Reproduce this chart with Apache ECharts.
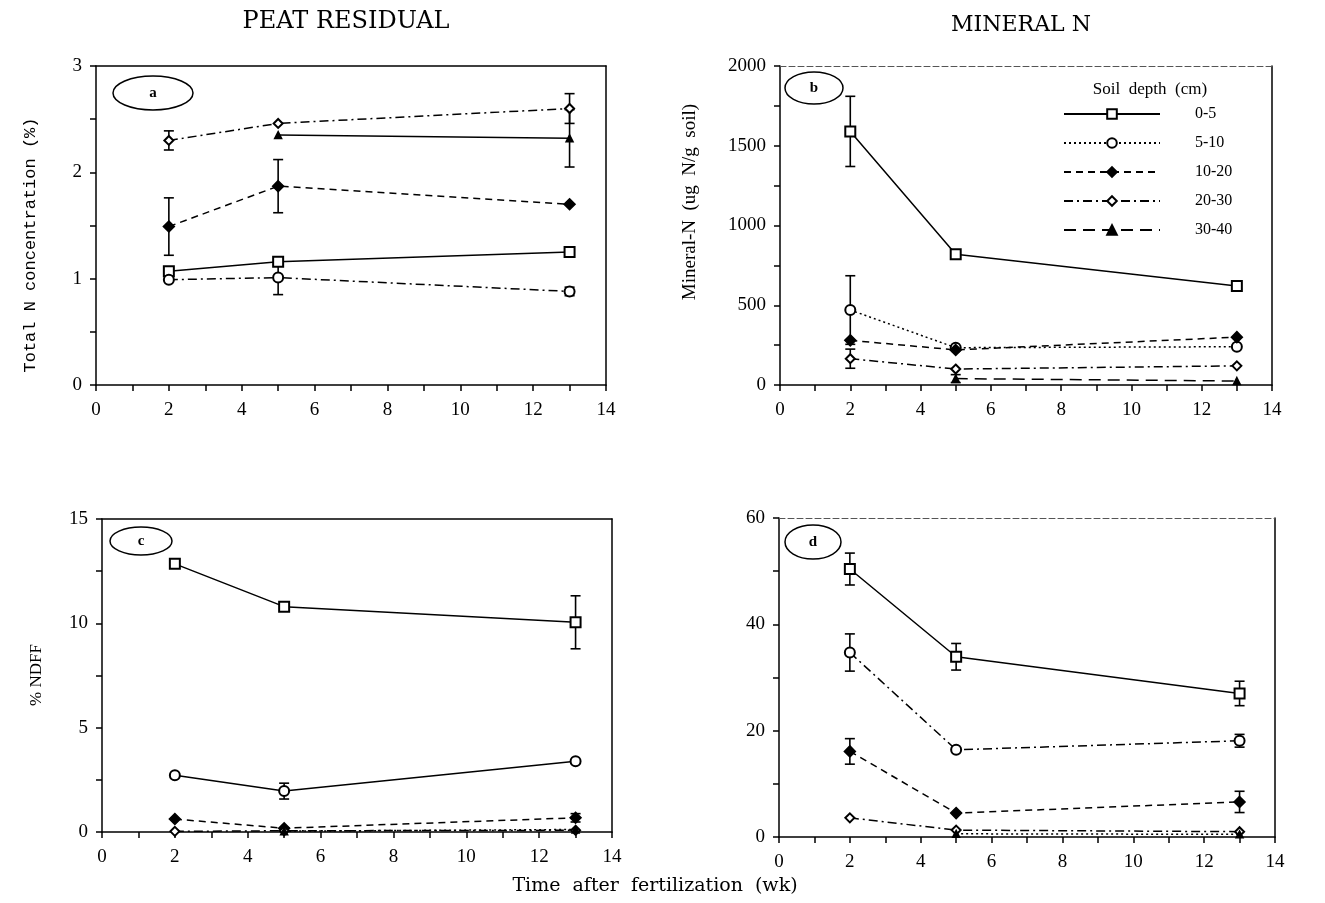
<!DOCTYPE html>
<html><head><meta charset="utf-8">
<script src="https://cdn.jsdelivr.net/npm/echarts@6/dist/echarts.min.js"></script>
<style>html,body{margin:0;padding:0;background:#fff}#c{width:1325px;height:903px}</style>
</head><body><div id="c"></div>
<script>
// ---------- data ----------
var weeks = [2, 5, 13];
var depths = ['0-5', '5-10', '10-20', '20-30', '30-40'];
var xTicks = [0, 2, 4, 6, 8, 10, 12, 14];

// Panel a: PEAT RESIDUAL, Total N concentration (%)
var a_0_5   = [1.07, 1.16, 1.25];
var a_5_10  = [0.99, 1.01, 0.88];
var a_10_20 = [1.49, 1.87, 1.70];
var a_20_30 = [2.30, 2.46, 2.60];
var a_30_40 = [null, 2.35, 2.32];
var aErr_0_5   = [0, 0, 0.04];
var aErr_5_10  = [0, 0.16, 0.04];
var aErr_10_20 = [0.27, 0.25, 0];
var aErr_20_30 = [0.09, 0, 0.14];
var aErr_30_40 = [0, 0, 0.27];

// Panel b: MINERAL N, Mineral-N (ug N/g soil)
var b_0_5   = [1590, 820, 620];
var b_5_10  = [470, 234, 240];
var b_10_20 = [280, 220, 300];
var b_20_30 = [165, 100, 120];
var b_30_40 = [null, 40, 25];
var bErr_0_5   = [220, 0, 0];
var bErr_5_10  = [215, 0, 0];
var bErr_10_20 = [0, 0, 0];
var bErr_20_30 = [60, 0, 0];
var bErr_30_40 = [0, 25, 0];

// Panel c: PEAT RESIDUAL, % NDFF
var c_0_5   = [12.85, 10.8, 10.05];
var c_5_10  = [2.72, 1.96, 3.39];
var c_10_20 = [0.62, 0.18, 0.68];
var c_20_30 = [0.03, 0.06, 0.08];
var c_30_40 = [null, 0.04, 0.12];
var cErr_0_5   = [0, 0, 1.27];
var cErr_5_10  = [0, 0.38, 0];
var cErr_10_20 = [0, 0, 0.2];
var cErr_20_30 = [0, 0, 0];
var cErr_30_40 = [0, 0, 0];

// Panel d: MINERAL N, % NDFF
var d_0_5   = [50.4, 33.9, 27.0];
var d_5_10  = [34.7, 16.4, 18.1];
var d_10_20 = [16.1, 4.5, 6.6];
var d_20_30 = [3.6, 1.3, 1.0];
var d_30_40 = [null, 0.6, 0.5];
var dErr_0_5   = [3.0, 2.5, 2.3];
var dErr_5_10  = [3.5, 0, 1.2];
var dErr_10_20 = [2.4, 0, 2.0];
var dErr_20_30 = [0, 0, 0];
var dErr_30_40 = [0, 0, 0];

// ---------- styling ----------
var SERIF = "'Liberation Serif','Times New Roman',serif";
var DSERIF = "'DejaVu Serif','Liberation Serif',serif";
var MONO = "'Liberation Mono','DejaVu Sans Mono',monospace";
var styles = [
  {symbol: 'emptyRect', size: 10},
  {symbol: 'emptyCircle', size: 10},
  {symbol: 'diamond', size: 11},
  {symbol: 'emptyDiamond', size: 9},
  {symbol: 'triangle', size: 7}
];
var panelVals = [
  [a_0_5, a_5_10, a_10_20, a_20_30, a_30_40],
  [b_0_5, b_5_10, b_10_20, b_20_30, b_30_40],
  [c_0_5, c_5_10, c_10_20, c_20_30, c_30_40],
  [d_0_5, d_5_10, d_10_20, d_20_30, d_30_40]
];
var panelErrs = [
  [aErr_0_5, aErr_5_10, aErr_10_20, aErr_20_30, aErr_30_40],
  [bErr_0_5, bErr_5_10, bErr_10_20, bErr_20_30, bErr_30_40],
  [cErr_0_5, cErr_5_10, cErr_10_20, cErr_20_30, cErr_30_40],
  [dErr_0_5, dErr_5_10, dErr_10_20, dErr_20_30, dErr_30_40]
];
var panelLabels = ['a', 'b', 'c', 'd'];
var panelTypes = [
  ['solid', [9, 4, 2, 4], [7, 5], [9, 4, 2, 4], 'solid'],
  ['solid', [2, 3], [7, 5], [9, 4, 2, 4], [12, 7]],
  ['solid', 'solid', [7, 5], [9, 4, 2, 4], [2, 3]],
  ['solid', [9, 4, 2, 4], [7, 5], [9, 4, 2, 4], [2, 3]]
];

var grids = [
  {left: 96, top: 66, width: 510, height: 319},
  {left: 780, top: 66, width: 492, height: 319},
  {left: 102, top: 519, width: 510, height: 313},
  {left: 779, top: 518, width: 496, height: 319}
];
var yCfg = [
  {min: 0, max: 3, interval: 1},
  {min: 0, max: 2000, interval: 500},
  {min: 0, max: 15, interval: 5},
  {min: 0, max: 60, interval: 20}
];

var xAxes = [], yAxes = [], series = [];
for (var p = 0; p < 4; p++) {
  xAxes.push({
    type: 'value', gridIndex: p, min: 0, max: 14, interval: 2,
    axisLine: {show: true, onZero: false, lineStyle: {color: '#000', width: 1.5}},
    axisTick: {show: true, inside: false, length: 6, lineStyle: {color: '#000', width: 1.5}},
    minorTick: {show: true, splitNumber: 2, length: 6, lineStyle: {color: '#000', width: 1.5}},
    splitLine: {show: false},
    axisLabel: {color: '#000', fontFamily: SERIF, fontSize: 19, margin: 16,
      formatter: function (v) { return xTicks.indexOf(v) >= 0 ? String(v) : ''; }}
  });
  yAxes.push({
    type: 'value', gridIndex: p, min: yCfg[p].min, max: yCfg[p].max, interval: yCfg[p].interval,
    axisLine: {show: true, onZero: false, lineStyle: {color: '#000', width: 1.5}},
    axisTick: {show: true, inside: false, length: 6, lineStyle: {color: '#000', width: 1.5}},
    minorTick: {show: true, splitNumber: 2, length: 6, lineStyle: {color: '#000', width: 1.5}},
    splitLine: {show: false},
    axisLabel: {color: '#000', fontFamily: SERIF, fontSize: 19, margin: 14,
      formatter: function (v) { return String(v); }}
  });
}
// frame axes (top / right)
for (var p = 0; p < 4; p++) {
  var dotted = (p === 1 || p === 3);
  xAxes.push({
    type: 'value', gridIndex: p, min: 0, max: 14, position: 'top',
    axisLine: {show: true, onZero: false, lineStyle: {color: dotted ? '#555' : '#000', width: dotted ? 1 : 1.5, type: dotted ? [6, 3] : 'solid'}},
    axisTick: {show: false}, axisLabel: {show: false}, splitLine: {show: false}
  });
  yAxes.push({
    type: 'value', gridIndex: p, min: yCfg[p].min, max: yCfg[p].max, position: 'right',
    axisLine: {show: true, onZero: false, lineStyle: {color: '#000', width: 1.5}},
    axisTick: {show: false}, axisLabel: {show: false}, splitLine: {show: false}
  });
}

function errRender(params, api) {
  var x = api.value(0), lo = api.value(1), hi = api.value(2);
  var p1 = api.coord([x, hi]), p2 = api.coord([x, lo]);
  var w = 5, st = {stroke: '#000', lineWidth: 1.6};
  return {type: 'group', children: [
    {type: 'line', shape: {x1: p1[0], y1: p1[1], x2: p2[0], y2: p2[1]}, style: st},
    {type: 'line', shape: {x1: p1[0] - w, y1: p1[1], x2: p1[0] + w, y2: p1[1]}, style: st},
    {type: 'line', shape: {x1: p2[0] - w, y1: p2[1], x2: p2[0] + w, y2: p2[1]}, style: st}
  ]};
}

for (var p = 0; p < 4; p++) {
  var errData = [];
  for (var s = 0; s < 5; s++) {
    var vals = panelVals[p][s], errs = panelErrs[p][s];
    var data = [];
    for (var i = 0; i < weeks.length; i++) {
      if (vals[i] !== null) data.push([weeks[i], vals[i]]);
      if (vals[i] !== null && errs[i] > 0) errData.push([weeks[i], vals[i] - errs[i], vals[i] + errs[i]]);
    }
    series.push({
      type: 'line', name: p === 1 ? depths[s] : panelLabels[p] + ' ' + depths[s],
      xAxisIndex: p, yAxisIndex: p, data: data, z: 3,
      symbol: styles[s].symbol, symbolSize: styles[s].size,
      lineStyle: {color: '#000', width: 1.5, type: panelTypes[p][s]},
      itemStyle: {color: '#000', borderColor: '#000', borderWidth: 1.5},
      animation: false
    });
  }
  series.push({
    type: 'custom', name: 'err ' + panelLabels[p], xAxisIndex: p, yAxisIndex: p,
    renderItem: errRender, data: errData, z: 2, animation: false, silent: true
  });
}

var ellipses = [
  {cx: 153, cy: 93, rx: 40, ry: 17, t: 'a'},
  {cx: 814, cy: 88, rx: 29, ry: 16, t: 'b'},
  {cx: 141, cy: 541, rx: 31, ry: 14, t: 'c'},
  {cx: 813, cy: 542, rx: 28, ry: 17, t: 'd'}
];
var graphics = [];
ellipses.forEach(function (e) {
  graphics.push({type: 'ellipse', shape: {cx: e.cx, cy: e.cy, rx: e.rx, ry: e.ry},
    style: {fill: '#fff', stroke: '#000', lineWidth: 1.5}, z: 10});
  graphics.push({type: 'text', x: e.cx, y: e.cy, z: 11,
    style: {text: e.t, fill: '#000', font: 'bold 15px ' + SERIF, textAlign: 'center', textVerticalAlign: 'middle'}});
});
function txt(x, y, s, font, rot) {
  graphics.push({type: 'text', x: x, y: y, rotation: rot || 0,
    style: {text: s, fill: '#000', font: font, textAlign: 'center', textVerticalAlign: 'middle'}});
}
txt(346, 22, 'PEAT RESIDUAL', '24px ' + DSERIF);
txt(1021, 25, 'MINERAL N', '22px ' + DSERIF);
txt(655, 886, 'Time  after  fertilization  (wk)', '19px ' + DSERIF);
txt(1150, 90, 'Soil  depth  (cm)', '17px ' + SERIF);
txt(30, 245, 'Total N concentration (%)', '17px ' + MONO, Math.PI / 2);
txt(690, 202, 'Mineral-N  (ug  N/g  soil)', '19px ' + SERIF, Math.PI / 2);
txt(37, 675, '% NDFF', '17px ' + SERIF, Math.PI / 2);

var chart = echarts.init(document.getElementById('c'), null, {renderer: 'canvas'});
chart.setOption({
  backgroundColor: '#fff',
  animation: false,
  grid: grids,
  xAxis: xAxes,
  yAxis: yAxes,
  legend: {
    data: depths, orient: 'vertical', left: 1058, top: 101,
    itemWidth: 96, itemHeight: 12, itemGap: 13,
    textStyle: {color: '#000', fontFamily: SERIF, fontSize: 16, padding: [0, 0, 0, 30]},
    selectedMode: false
  },
  graphic: graphics,
  series: series
});
</script></body></html>
